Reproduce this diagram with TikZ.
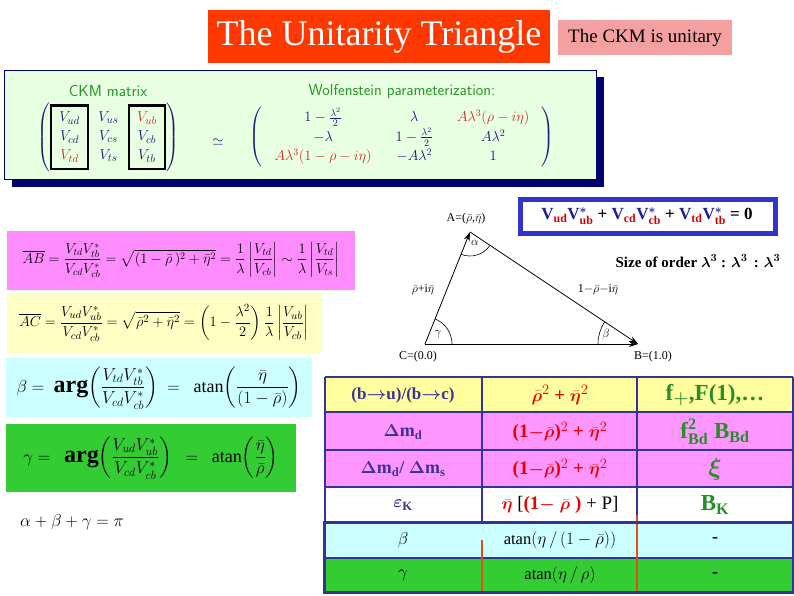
\documentclass[tikz,border=0pt]{standalone}
\usepackage{fontspec}
\setmainfont{Liberation Serif}
\usepackage{amsmath}
\usepackage{bm}
\usetikzlibrary{arrows.meta}

\definecolor{titlered}{RGB}{255,56,0}
\definecolor{ckmpink}{RGB}{245,160,160}
\definecolor{panelgreen}{RGB}{232,255,226}
\definecolor{shadownavy}{RGB}{0,0,110}
\definecolor{ckmgreen}{RGB}{40,150,40}
\definecolor{matnavy}{RGB}{25,25,110}
\definecolor{matred}{RGB}{210,40,40}
\definecolor{eqblue}{RGB}{51,51,204}
\definecolor{vblue}{RGB}{30,30,150}
\definecolor{eqred}{RGB}{210,0,0}
\definecolor{boxmagenta}{RGB}{255,140,255}
\definecolor{boxyellow}{RGB}{255,255,195}
\definecolor{boxcyan}{RGB}{204,255,255}
\definecolor{boxgreen}{RGB}{51,204,51}
\definecolor{rowyellow}{RGB}{255,255,160}
\definecolor{rowmagenta}{RGB}{255,150,255}
\definecolor{gridnavy}{RGB}{51,51,153}
\definecolor{slate}{RGB}{60,50,150}
\definecolor{tabred}{RGB}{235,0,0}
\definecolor{tabgreen}{RGB}{40,140,40}
\definecolor{gridorange}{RGB}{220,80,20}

\newcommand{\setfs}[1]{\fontsize{#1}{#1}\selectfont}
\newcommand{\ckmV}[1]{\textcolor{vblue}{V}$_{\textcolor{eqred}{\textbf{#1}}}$}
\newcommand{\ckmVc}[1]{\textcolor{vblue}{V}$^{\textcolor{vblue}{\bm{*}}}_{\textcolor{eqred}{\textbf{#1}}}$}
\newcommand{\bigarg}{\mbox{\fontsize{24}{24}\selectfont\bfseries arg}}

\tikzset{
  tri/.style={-{Stealth[length=9pt,width=6pt]}, line width=0.8pt},
  trilabel/.style={font=\setfs{12}},
  grid/.style={draw=gridnavy, line width=2pt},
  cellred/.style={text=tabred, font=\bfseries\setfs{19}},
  cellgreen/.style={text=tabgreen, font=\bfseries\setfs{23}},
  cellslate/.style={text=slate, font=\bfseries\setfs{18}},
  cellplain/.style={font=\setfs{16.5}}
}

\begin{document}
\begin{tikzpicture}[x=1pt, y=-1pt, every node/.style={inner sep=0pt}]
\useasboundingbox (0,0) rectangle (794,595);

% title bar
\fill[titlered] (208,10) rectangle (550,63);
\node[text=white, font=\setfs{36}] (title) at (379,37) {The Unitarity Triangle};
\fill[ckmpink] (558,20) rectangle (732,55);
\node[font=\setfs{19}] (unitary) at (645,38) {The CKM is unitary};

% CKM panel
\fill[shadownavy] (12,77) rectangle (604,187);
\filldraw[fill=panelgreen, draw=shadownavy, line width=1pt] (4,70) rectangle (596,179);
\node[text=ckmgreen, font=\sffamily\setfs{16}] (ckmlab) at (108,91) {CKM matrix};
\node[text=ckmgreen, font=\sffamily\setfs{16}] (wolflab) at (402,91) {Wolfenstein parameterization:};
\node[text=matnavy, font=\fontsize{15}{19}\selectfont] (ckmmat) at (108,137)
  {\setlength{\fboxrule}{2.5pt}\setlength{\fboxsep}{2pt}%
   $\left(\color{black}\fbox{$\color{matnavy}\begin{array}{c}V_{ud}\\V_{cd}\\\color{matred}V_{td}\end{array}$}\;
   \color{matnavy}\begin{array}{c}V_{us}\\V_{cs}\\V_{ts}\end{array}\;
   \color{black}\fbox{$\color{matnavy}\begin{array}{c}\color{matred}V_{ub}\\V_{cb}\\V_{tb}\end{array}$}\color{matnavy}\right)$};
\node[text=matnavy, font=\setfs{15}] (simeq) at (218,142) {$\simeq$};
\node[text=matnavy, font=\fontsize{14}{19}\selectfont] (wolfmat) at (402,137)
  {\setlength{\arraycolsep}{12pt}%
   $\left(\begin{array}{ccc}
   1-\frac{\lambda^2}{2} & \lambda & \color{matred}A\lambda^3(\rho-i\eta)\\
   -\lambda & 1-\frac{\lambda^2}{2} & A\lambda^2\\
   \color{matred}A\lambda^3(1-\rho-i\eta) & -A\lambda^2 & 1
   \end{array}\right)$};

% unitarity relation
\draw[draw=eqblue, line width=5pt, fill=white] (520,199) rectangle (775,233);
\node[font=\bfseries\setfs{17}] (relation) at (647,216)
  {\ckmV{ud}\ckmVc{ub} + \ckmV{cd}\ckmVc{cb} + \ckmV{td}\ckmVc{tb} = 0};
\node[font=\bfseries\setfs{15}] (order) at (698,261)
  {Size of order $\bm{\lambda^3}$ : $\bm{\lambda^3}$ \,: $\bm{\lambda^3}$};

% triangle
\coordinate (C) at (425,344);
\coordinate (B) at (638,344);
\coordinate (A) at (470,232);
\draw[tri] (C) -- (A);
\draw[tri] (A) -- (B);
\draw[tri] (C) -- (B);
\draw[line width=0.6pt] ([shift={(0:27)}]C) arc[start angle=0, end angle=-68.1, radius=27];
\draw[line width=0.6pt] ([shift={(180:40)}]B) arc[start angle=180, end angle=213.7, radius=40];
\draw[line width=0.6pt] ([shift={(33.7:24)}]A) arc[start angle=33.7, end angle=111.9, radius=24];
\node[trilabel] (Alab) at (466,219) {A=($\bar\rho$,$\bar\eta$)};
\node[trilabel] (Clab) at (418,357) {C=(0.0)};
\node[trilabel] (Blab) at (653,357) {B=(1.0)};
\node[trilabel] (alab) at (475,243) {$\alpha$};
\node[trilabel] (glab) at (438,334) {$\gamma$};
\node[trilabel] (blab) at (606,334) {$\beta$};
\node[trilabel] (CAlab) at (423,290) {$\bar\rho$+i$\bar\eta$};
\node[trilabel] (ABlab) at (598,290) {1$-\bar\rho-$i$\bar\eta$};

% side formulas
\fill[boxmagenta] (7,231) rectangle (355,290);
\node[font=\setfs{14.5}] (ABeq) at (181,260)
  {$\displaystyle\overline{AB}=\frac{V_{td}V_{tb}^*}{V_{cd}V_{cb}^*}=\sqrt{(1-\bar\rho\,)^2+\bar\eta^2}
   =\frac{1}{\lambda}\left|\frac{V_{td}}{V_{cb}}\right|\sim\frac{1}{\lambda}\left|\frac{V_{td}}{V_{ts}}\right|$};
\fill[boxyellow] (7,293) rectangle (322,353);
\node[font=\setfs{15.5}] (ACeq) at (164,323)
  {$\displaystyle\overline{AC}=\frac{V_{ud}V_{ub}^*}{V_{cd}V_{cb}^*}=\sqrt{\bar\rho^2+\bar\eta^2}
   =\left(1-\frac{\lambda^2}{2}\right)\frac{1}{\lambda}\left|\frac{V_{ub}}{V_{cb}}\right|$};
\fill[boxcyan] (6,358) rectangle (312,417);
\node[font=\setfs{18}] (betaeq) at (159,388)
  {$\displaystyle\beta=\ \bigarg\!\left(\frac{V_{td}V_{tb}^*}{V_{cd}V_{cb}^*}\right)\ =\ \ \mathrm{atan}\!\left(\frac{\bar\eta}{(1-\bar\rho)}\right)$};
\fill[boxgreen] (6,424) rectangle (296,492);
\node[font=\setfs{18}] (gammaeq) at (151,458)
  {$\displaystyle\gamma=\ \ \bigarg\!\left(\frac{V_{ud}V_{ub}^*}{V_{cd}V_{cb}^*}\right)\ \ =\ \ \mathrm{atan}\!\left(\frac{\bar\eta}{\bar\rho}\right)$};
\node[font=\setfs{17}] (anglesum) at (72,522) {$\alpha+\beta+\gamma=\pi$};

% constraints table
\fill[rowyellow] (325,377) rectangle (793,412);
\fill[rowmagenta] (325,412) rectangle (793,487);
\fill[boxcyan] (325,522) rectangle (793,558);
\fill[boxgreen] (325,558) rectangle (793,592);
\foreach \y in {377,412,450,487} \draw[grid] (325,\y) -- (793,\y);
\foreach \x in {325,482,637,793} \draw[grid] (\x,377) -- (\x,522);
\draw[grid] (325,558) -- (793,558);
\draw[draw=gridorange, line width=2pt] (482,540) -- (482,592);
\draw[draw=gridorange, line width=2pt] (637,515) -- (637,592);
\draw[draw=gridnavy, line width=3pt] (324,522) rectangle (793,592);

\node[cellslate, font=\bfseries\setfs{17}] (t11) at (403,395) {(b$\bm\rightarrow$u)/(b$\bm\rightarrow$c)};
\node[cellred] (t12) at (560,395) {$\bm{\bar\rho}^2$ + $\bm{\bar\eta}^2$};
\node[cellgreen] (t13) at (715,395) {f$_{\bm +}$,F(1),\dots};
\node[cellslate] (t21) at (403,432) {$\bm\Delta$m$_{\textbf{d}}$};
\node[cellred] (t22) at (560,432) {(1$\bm-\bm{\bar\rho}$)$^2$ + $\bm{\bar\eta}^2$};
\node[cellgreen] (t23) at (715,432) {f$^{\textbf{2}}_{\textbf{Bd}}$ B$_{\textbf{Bd}}$};
\node[cellslate] (t31) at (403,469) {$\bm\Delta$m$_{\textbf{d}}$/ $\bm\Delta$m$_{\textbf{s}}$};
\node[cellred] (t32) at (560,469) {(1$\bm-\bm{\bar\rho}$)$^2$ + $\bm{\bar\eta}^2$};
\node[cellgreen] (t33) at (715,469) {$\bm\xi$};
\node[cellslate] (t41) at (403,505) {$\bm\varepsilon_{\textbf{K}}$};
\node[cellred] (t42) at (560,505) {$\bm{\bar\eta}$ {\color{black}\mdseries[}(1$\bm-$ $\bm{\bar\rho}$ ) {\color{black}\mdseries+ P]}};
\node[cellgreen] (t43) at (715,505) {B$_{\textbf{K}}$};
\node[cellplain] (t51) at (403,540) {$\beta$};
\node[cellplain] (t52) at (560,540) {atan$\left(\eta\,/\,(1-\bar\rho)\right)$};
\node[cellplain, font=\bfseries\setfs{18}] (t53) at (715,540) {-};
\node[cellplain] (t61) at (403,575) {$\gamma$};
\node[cellplain] (t62) at (560,575) {atan$\left(\eta\,/\,\rho\right)$};
\node[cellplain, font=\bfseries\setfs{18}] (t63) at (715,575) {-};
\end{tikzpicture}
\end{document}
